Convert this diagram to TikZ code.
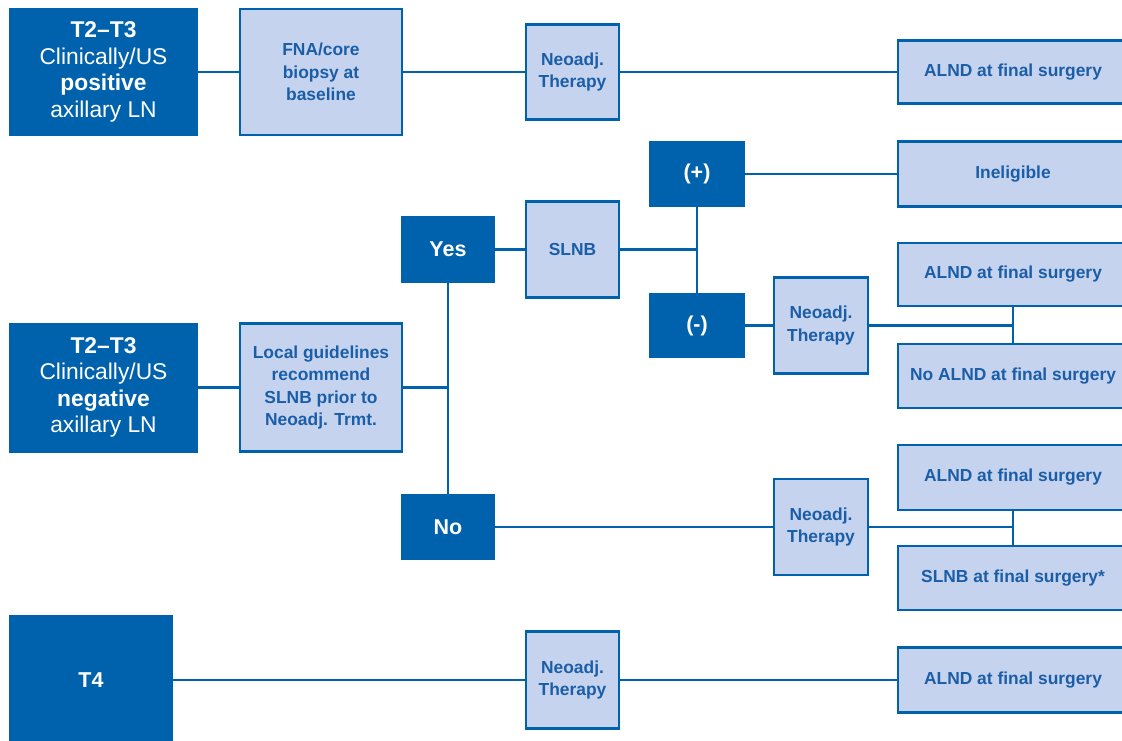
\documentclass[tikz,border=0pt]{standalone}
\usepackage{fontspec}
\setmainfont{Liberation Sans}
\definecolor{dk}{HTML}{0062AD}
\definecolor{lt}{HTML}{C6D3EE}
\definecolor{tx}{HTML}{1B5EA8}
\begin{document}
\begin{tikzpicture}[x=1pt,y=-1pt,
  dark/.style={fill=dk,text=white,inner sep=0pt,align=center,font=\fontsize{22.8}{26.5}\selectfont},
  lab/.style={dark,font=\fontsize{21.5}{26}\selectfont\bfseries},
  light/.style={fill=lt,draw=dk,line width=2.8pt,text=tx,inner sep=0pt,align=center,font=\fontsize{17.4}{22.5}\selectfont\bfseries},
  con/.style={draw=dk,line width=2.8pt}]
\clip (0,0) rectangle (1122,740);
\fill[white] (0,0) rectangle (1122,740);
% nodes
\node[dark,minimum width=189pt,minimum height=128pt] (A) at (103.5,72) {\textbf{T2–T3}\\Clinically/US\\\textbf{positive}\\axillary LN};
\node[light,minimum width=162pt,minimum height=126pt] (FNA) at (321,72) {FNA/core\\biopsy at\\baseline};
\node[light,minimum width=93pt,minimum height=95pt] (N1) at (572.5,72) {Neoadj.\\Therapy};
\node[light,minimum width=230pt,minimum height=63pt] (R1) at (1013,72) {ALND at final surgery};
\node[lab,minimum width=96pt,minimum height=66pt] (Plus) at (697,174) {(+)};
\node[light,minimum width=230pt,minimum height=65pt] (Inel) at (1013,174) {Ineligible};
\node[lab,minimum width=94pt,minimum height=67pt] (Yes) at (448,249.5) {Yes};
\node[light,minimum width=93pt,minimum height=96pt] (SLNB) at (572.5,249.5) {SLNB};
\node[lab,minimum width=96pt,minimum height=65pt] (Minus) at (697,325.5) {(-)};
\node[light,minimum width=94pt,minimum height=96pt] (N2) at (821,325.5) {Neoadj.\\Therapy};
\node[light,minimum width=230pt,minimum height=63pt] (R2) at (1013,274.5) {ALND at final surgery};
\node[light,minimum width=230pt,minimum height=64pt] (R3) at (1013,376) {No ALND at final surgery};
\node[dark,minimum width=189pt,minimum height=130pt] (B) at (103.5,387.5) {\textbf{T2–T3}\\Clinically/US\\\textbf{negative}\\axillary LN};
\node[light,minimum width=162pt,minimum height=128pt] (Local) at (321,387.5) {Local guidelines\\recommend\\SLNB prior to\\Neoadj. Trmt.};
\node[lab,minimum width=94pt,minimum height=66pt] (No) at (448,527) {No};
\node[light,minimum width=94pt,minimum height=96pt] (N3) at (821,527) {Neoadj.\\Therapy};
\node[light,minimum width=230pt,minimum height=65pt] (R4) at (1013,477.5) {ALND at final surgery};
\node[light,minimum width=230pt,minimum height=64pt] (R5) at (1013,578) {SLNB at final surgery*};
\node[lab,minimum width=164pt,minimum height=130pt] (T4) at (91,680) {T4};
\node[light,minimum width=93pt,minimum height=97pt] (N4) at (572.5,680) {Neoadj.\\Therapy};
\node[light,minimum width=230pt,minimum height=65pt] (R6) at (1013,680) {ALND at final surgery};
% connectors
\draw[con] (A) -- (FNA);
\draw[con] (FNA) -- (N1);
\draw[con] (N1) -- (R1);
\draw[con] (Plus) -- (Inel);
\draw[con] (Yes) -- (SLNB);
\draw[con] (SLNB.east) -- (SLNB.east -| Plus.south);
\draw[con] (Plus.south) -- (Minus.north);
\draw[con] (Minus) -- (N2);
\draw[con] (N2.east) -- (N2.east -| R2.south);
\draw[con] (R2.south) -- (R3.north);
\draw[con] (B) -- (Local);
\draw[con] (Local.east) -- (Local.east -| Yes.south);
\draw[con] (Yes.south) -- (No.north);
\draw[con] (No) -- (N3);
\draw[con] (N3.east) -- (N3.east -| R4.south);
\draw[con] (R4.south) -- (R5.north);
\draw[con] (T4) -- (N4);
\draw[con] (N4) -- (R6);
\end{tikzpicture}
\end{document}
